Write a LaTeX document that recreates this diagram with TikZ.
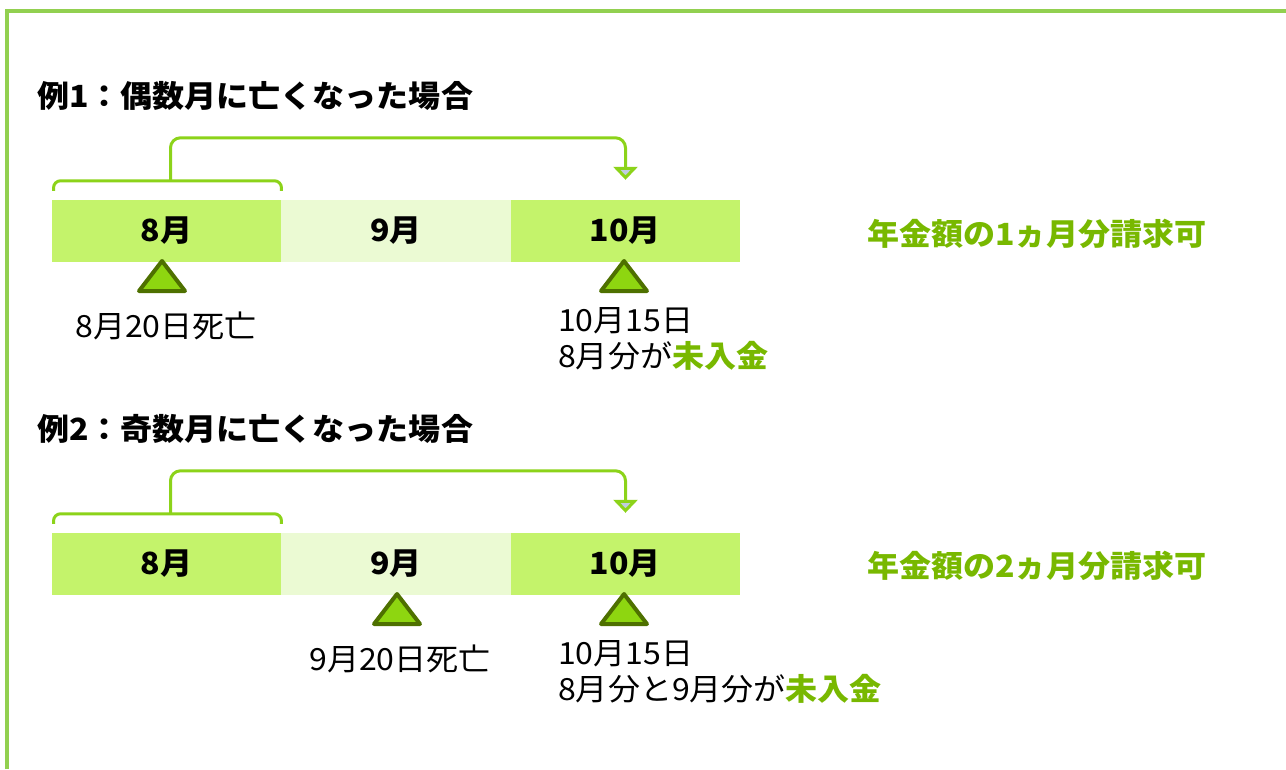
\documentclass[tikz,border=0pt]{standalone}
\usepackage{fontspec}
\setmainfont{Noto Sans CJK JP}[FakeStretch=1.05]
\usepackage{tikz}
\usetikzlibrary{arrows.meta,calc}
\definecolor{darkmonth}{HTML}{C4F36B}
\definecolor{lightmonth}{HTML}{EBFAD3}
\definecolor{framegreen}{HTML}{92D050}
\definecolor{linkgreen}{HTML}{8CD31A}
\definecolor{tipgray}{HTML}{BFCCE0}
\definecolor{markfill}{HTML}{8ED610}
\definecolor{markline}{HTML}{4E7000}
\definecolor{notegreen}{HTML}{78B800}
\tikzstyle{month}=[minimum width=229.5pt, minimum height=62pt, inner sep=0pt, font=\fontsize{30.5}{36}\selectfont\bfseries]
\tikzstyle{darkshade}=[fill=darkmonth]
\tikzstyle{lightshade}=[fill=lightmonth]
\tikzstyle{notetext}=[font=\fontsize{30.5}{36}\selectfont, inner sep=0pt]
\tikzstyle{heading}=[font=\fontsize{30.5}{36}\selectfont\bfseries, inner sep=0pt]
\tikzstyle{claim}=[text=notegreen, font=\fontsize{30.5}{36}\selectfont\bfseries, inner sep=0pt]
\tikzstyle{carryline}=[draw=linkgreen, line width=3pt, rounded corners=10pt]
\newcommand{\deathmark}[2]{
	\coordinate (#2) at #1;
	\draw[fill=markfill, draw=markline, line width=4pt, line join=round] ($#1+(-23,15)$) -- ($#1+(0,-15)$) -- ($#1+(23,15)$) -- cycle;
}

\begin{document}
\begin{tikzpicture}[x=1pt,y=-1pt]
	\useasboundingbox (0,0) rectangle (1286,769);
	\draw[draw=framegreen, line width=4pt] (7,769) -- (7,11) -- (1286,11);

	% example 1
	\node[heading, anchor=west] (t1) at (37,96) {例1：偶数月に亡くなった場合};
	\node[month, darkshade] (a8) at (166.5,231) {8月};
	\node[month, lightshade] (a9) at (396,231) {9月};
	\node[month, darkshade] (a10) at (625.5,231) {10月};
	\draw[carryline, rounded corners=7pt] ($(a8.north west)+(2,-9)$) |- ($(a8.north)+(0,-19)$) -| ($(a8.north east)+(0,-9)$);
	\draw[carryline, -{Triangle[width=24pt, length=13pt, fill=tipgray]}] ($(a8.north)+(4,-19)$) |- ($(a10.north)+(0,-62)$) -- ($(a10.north)+(0,-20)$);
	\deathmark{(162,276)}{d1}
	\deathmark{(624,276)}{p1}
	\node[notetext] (n1) at (166,326) {8月20日死亡};
	\node[notetext, anchor=north west, align=left] (q1) at (558,307) {10月15日\\8月分が\textcolor{notegreen}{\bfseries 未入金}};
	\node[claim, anchor=west] (c1) at (867,234) {年金額の1ヵ月分請求可};

	% example 2
	\node[heading, anchor=west] (t2) at (37,429) {例2：奇数月に亡くなった場合};
	\node[month, darkshade] (b8) at (166.5,564) {8月};
	\node[month, lightshade] (b9) at (396,564) {9月};
	\node[month, darkshade] (b10) at (625.5,564) {10月};
	\draw[carryline, rounded corners=7pt] ($(b8.north west)+(2,-9)$) |- ($(b8.north)+(0,-19)$) -| ($(b8.north east)+(0,-9)$);
	\draw[carryline, -{Triangle[width=24pt, length=13pt, fill=tipgray]}] ($(b8.north)+(4,-19)$) |- ($(b10.north)+(0,-62)$) -- ($(b10.north)+(0,-20)$);
	\deathmark{(397,609)}{d2}
	\deathmark{(624,609)}{p2}
	\node[notetext] (n2) at (400,659) {9月20日死亡};
	\node[notetext, anchor=north west, align=left] (q2) at (558,640) {10月15日\\8月分と9月分が\textcolor{notegreen}{\bfseries 未入金}};
	\node[claim, anchor=west] (c2) at (867,566) {年金額の2ヵ月分請求可};
\end{tikzpicture}
\end{document}
